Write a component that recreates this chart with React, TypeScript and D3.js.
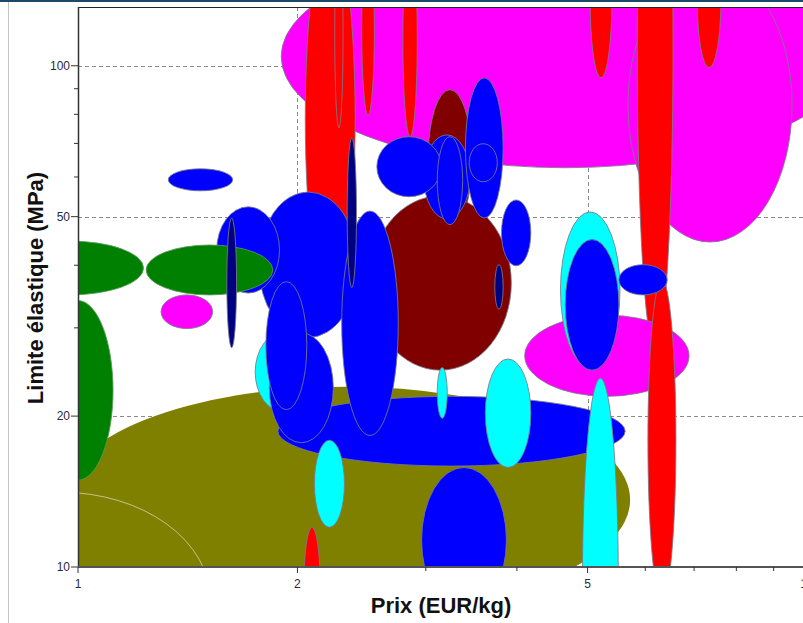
import React from "react";
import * as d3 from "d3";

// Material families (fill colour per family)
const familyColors: Record<string, string> = {
  olive: "#808000",
  arc: "#808000",
  green: "#008000",
  magenta: "#ff00ff",
  red: "#ff0000",
  maroon: "#800000",
  blue: "#0000ff",
  navy: "#000080",
  cyan: "#00ffff",
};

// [family, prix min, prix max, limite min, limite max] in draw order
const materials: [string, number, number, number, number][] = [
  ["olive", 0.95, 5.72, 8.1, 22.9],
  ["arc", 0.59, 1.52, 5.2, 14.1],
  ["green", 0.895, 1.117, 14.9, 34.0],
  ["magenta", 1.9, 11.4, 62.6, 174],
  ["magenta", 5.68, 9.54, 44.5, 157],
  ["red", 2.05, 2.4, 33.0, 187],
  ["red", 2.25, 2.31, 75.2, 178],
  ["red", 2.45, 2.55, 79.8, 174],
  ["red", 2.79, 2.92, 72.2, 176],
  ["red", 5.04, 5.4, 94.6, 194],
  ["red", 7.07, 7.62, 99.1, 185],
  ["red", 5.85, 6.55, 27.1, 427],
  ["magenta", 4.1, 6.89, 21.9, 31.8],
  ["red", 6.05, 6.61, 8.6, 37.4],
  ["maroon", 3.02, 3.47, 47.1, 89.6],
  ["maroon", 2.51, 3.93, 24.7, 55.0],
  ["blue", 2.96, 3.87, 8.1, 15.8],
  ["blue", 1.88, 5.63, 15.9, 21.9],
  ["cyan", 3.62, 4.18, 15.8, 26.0],
  ["cyan", 3.11, 3.21, 19.8, 25.0],
  ["cyan", 2.11, 2.32, 12.0, 17.9],
  ["red", 2.04, 2.15, 6.8, 12.0],
  ["blue", 1.77, 2.42, 28.7, 56.0],
  ["blue", 1.55, 1.89, 35.2, 52.3],
  ["green", 0.77, 1.23, 34.9, 44.7],
  ["green", 1.24, 1.85, 34.9, 43.9],
  ["navy", 1.6, 1.65, 27.4, 49.7],
  ["magenta", 1.3, 1.53, 29.9, 34.9],
  ["blue", 1.33, 1.63, 56.3, 62.3],
  ["cyan", 1.75, 2.09, 20.4, 29.4],
  ["blue", 1.83, 2.24, 17.7, 29.3],
  ["blue", 1.81, 2.06, 20.6, 37.1],
  ["blue", 2.3, 2.75, 18.3, 51.3],
  ["navy", 2.34, 2.41, 36.1, 71.8],
  ["blue", 2.98, 3.45, 49.5, 72.8],
  ["blue", 2.57, 3.15, 54.8, 72.2],
  ["blue", 3.11, 3.37, 48.2, 72.2],
  ["blue", 3.4, 3.83, 49.7, 94.6],
  ["blue", 3.44, 3.76, 58.7, 69.9],
  ["navy", 3.73, 3.83, 32.7, 40.1],
  ["blue", 3.81, 4.18, 39.9, 54.0],
  ["cyan", 4.59, 5.54, 25.0, 51.1],
  ["blue", 4.66, 5.52, 24.7, 45.0],
  ["blue", 5.52, 6.43, 34.9, 40.1],
  ["cyan", 4.92, 5.51, 3.72, 23.8],
];

const xDomain: [number, number] = [1, 10];
const yDomain: [number, number] = [10, 131];
const xMajor = [1, 2, 5, 10];
const xMinor = [3, 4, 6, 7, 8, 9];
const yMajor = [10, 20, 50, 100];
const yMinor = [30, 40, 60, 70, 80, 90];
const xGrid = [2, 5];
const yGrid = [20, 50, 100];
const xTitle = "Prix (EUR/kg)";
const yTitle = "Limite élastique (MPa)";

export default function App() {
  const W = 803, H = 623;
  const L = 78, R = 807, T = 7, B = 567;
  const x = d3.scaleLog().domain(xDomain).range([L, R]);
  const y = d3.scaleLog().domain(yDomain).range([B, T]);
  const font = "'Liberation Sans', Arial, sans-serif";

  return (
    <svg width={W} height={H} style={{ position: "absolute", left: 0, top: 0, background: "#fff" }}>
      <defs>
        <clipPath id="plot">
          <rect x={L} y={T} width={R - L} height={B - T} />
        </clipPath>
      </defs>
      <rect x={0} y={0} width={W} height={H} fill="#fff" />
      {/* window frame */}
      <rect x={0} y={0} width={W} height={2} fill="#1b4a68" />
      <line x1={8.5} y1={2} x2={8.5} y2={H} stroke="#c4c4c4" strokeWidth={1} />

      {/* grid */}
      <g stroke="#8a8a8a" strokeWidth={1} strokeDasharray="4,3">
        {yGrid.map((v) => (
          <line key={"gy" + v} x1={L} x2={W} y1={Math.round(y(v)) + 0.5} y2={Math.round(y(v)) + 0.5} />
        ))}
        {xGrid.map((v) => (
          <line key={"gx" + v} y1={T} y2={B} x1={Math.round(x(v)) + 0.5} x2={Math.round(x(v)) + 0.5} />
        ))}
      </g>

      {/* material ellipses */}
      <g clipPath="url(#plot)">
        {materials.map(([fam, p0, p1, s0, s1], i) => {
          const cx = (x(p0) + x(p1)) / 2;
          const rx = (x(p1) - x(p0)) / 2;
          const cy = (y(s0) + y(s1)) / 2;
          const ry = (y(s0) - y(s1)) / 2;
          const isOlive = fam === "olive";
          const isArc = fam === "arc";
          const isGreen = fam === "green";
          return (
            <ellipse
              key={i}
              cx={cx}
              cy={cy}
              rx={rx}
              ry={ry}
              fill={familyColors[fam]}
              stroke={isOlive ? "none" : isArc ? "#d6d2a8" : isGreen ? "#5a9a5a" : "#7a7a8a"}
              strokeWidth={1}
              strokeOpacity={isArc ? 0.8 : 0.85}
            />
          );
        })}
      </g>

      {/* frame / axes */}
      <line x1={L} x2={W} y1={T + 0.5} y2={T + 0.5} stroke="#222" strokeWidth={1} />
      <line x1={L + 0.5} x2={L + 0.5} y1={T} y2={B} stroke="#333" strokeWidth={1.5} />
      <line x1={L} x2={W} y1={B} y2={B} stroke="#555" strokeWidth={2} />

      {/* y ticks */}
      {yMajor.map((v) => (
        <g key={"ym" + v}>
          <line x1={L - 7} x2={L} y1={y(v)} y2={y(v)} stroke="#333" />
          <text x={L - 8} y={y(v)} dy="0.35em" textAnchor="end" fontSize={12} fontFamily={font} fill="#2a2a3a">
            {v}
          </text>
        </g>
      ))}
      {yMinor.map((v) => (
        <line key={"yn" + v} x1={L - 4} x2={L} y1={y(v)} y2={y(v)} stroke="#333" />
      ))}

      {/* x ticks */}
      {xMajor.map((v) => (
        <g key={"xm" + v}>
          <line x1={x(v)} x2={x(v)} y1={B} y2={B + 6} stroke="#333" />
          <text x={x(v)} y={B + 21} textAnchor="middle" fontSize={12} fontFamily={font} fill="#2a2a3a">
            {v}
          </text>
        </g>
      ))}
      {xMinor.map((v) => (
        <line key={"xn" + v} x1={x(v)} x2={x(v)} y1={B} y2={B + 4} stroke="#333" />
      ))}

      {/* titles */}
      <text x={441} y={613} textAnchor="middle" fontSize={22} fontWeight="bold" fontFamily={font} fill="#111">
        {xTitle}
      </text>
      <text
        transform="translate(43,288) rotate(-90)"
        textAnchor="middle"
        fontSize={22}
        fontWeight="bold"
        fontFamily={font}
        fill="#111"
      >
        {yTitle}
      </text>
    </svg>
  );
}
